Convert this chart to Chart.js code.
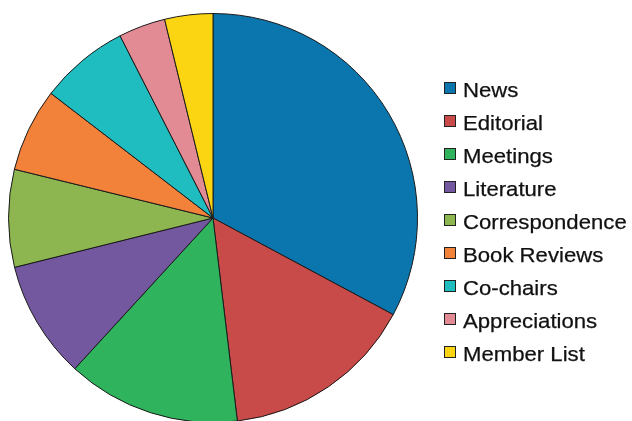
<!DOCTYPE html>
<html>
<head>
<meta charset="utf-8">
<script src="https://cdn.jsdelivr.net/npm/chart.js@4/dist/chart.umd.min.js"></script>
<style>
  html, body { margin: 0; padding: 0; background: #fff; }
  #wrap { position: relative; width: 632px; height: 421px; overflow: hidden; }
  #pie { position: absolute; left: 0; top: 0; }
  #legend { position: absolute; left: 444px; top: 73px; font-family: "Liberation Sans", Arial, sans-serif; color: #111; }
  .row { height: 33px; display: flex; align-items: center; white-space: nowrap; }
  .box { width: 10px; height: 10px; border: 1px solid #222; margin-right: 7px; margin-top: -4px; flex: none; }
  .lbl { font-size: 20.5px; transform: scaleX(1.08); transform-origin: left center; -webkit-text-stroke: 0.25px #111; }
</style>
</head>
<body>
<div id="wrap">
  <canvas id="pie" width="632" height="423"></canvas>
  <div id="legend"></div>
</div>
<script>
const categories = ["News", "Editorial", "Meetings", "Literature", "Correspondence",
  "Book Reviews", "Co-chairs", "Appreciations", "Member List"];
const shares = [32.8, 15.25, 13.7, 9.3, 7.7, 6.6, 7.05, 3.7, 3.8];
const sliceColors = ["#0b76ae", "#c84b4a", "#2fb35c", "#7358a0", "#8db651",
  "#f2813a", "#1fbdbf", "#e28b95", "#fcd512"];

new Chart(document.getElementById("pie"), {
  type: "pie",
  data: {
    labels: categories,
    datasets: [{
      data: shares,
      backgroundColor: sliceColors,
      borderColor: "#1a1a1a",
      borderWidth: 1
    }]
  },
  options: {
    responsive: false,
    animation: false,
    // pie sits on the left; bottom edge runs just past the canvas window
    layout: { padding: { left: 8, top: 13, right: 214, bottom: 0 } },
    plugins: {
      legend: { display: false },
      tooltip: { enabled: false }
    }
  }
});

// legend column on the right
const legend = document.getElementById("legend");
categories.forEach((name, i) => {
  const row = document.createElement("div");
  row.className = "row";
  const box = document.createElement("span");
  box.className = "box";
  box.style.background = sliceColors[i];
  const lbl = document.createElement("span");
  lbl.className = "lbl";
  lbl.textContent = name;
  row.appendChild(box);
  row.appendChild(lbl);
  legend.appendChild(row);
});
</script>
</body>
</html>
